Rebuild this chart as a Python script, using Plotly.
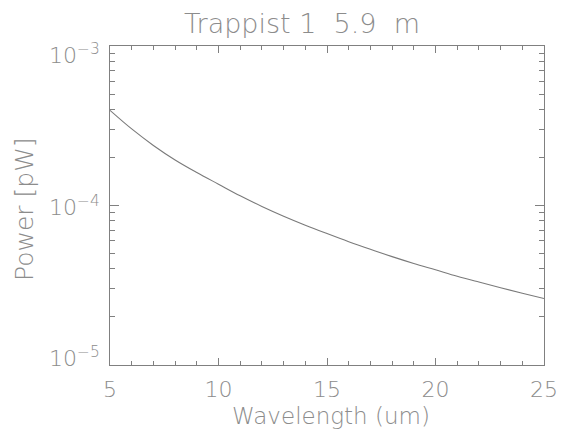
import math
import plotly.graph_objects as go

wavelength_um = [5, 6, 7, 8, 9, 10, 11, 12, 13, 14, 15, 16, 17, 18, 19, 20, 21, 22, 23, 24, 25]
power_pw = [3.95e-4, 3.02e-4, 2.38e-4, 1.93e-4, 1.61e-4, 1.36e-4, 1.15e-4, 9.86e-5, 8.57e-5,
            7.53e-5, 6.67e-5, 5.93e-5, 5.31e-5, 4.78e-5, 4.33e-5, 3.95e-5, 3.60e-5, 3.31e-5,
            3.05e-5, 2.82e-5, 2.61e-5]
y_tickvals = [1e-5, 1e-4, 1e-3]
y_ticktext = ["10<sup>\u22125</sup>", "10<sup>\u22124</sup>", "10<sup>\u22123</sup>"]
y_label_shift = [8, 0, -8]
x_tickvals = [5, 10, 15, 20, 25]
x_ticktext = ["5", "10", "15", "20", "25"]

GREY = "#808080"
TXT = "#8c8c8c"
FONT = "DejaVu Sans"
W = 200

L, R, T, B = 110, 20, 46, 74
PW, PH = 564 - L - R, 439 - T - B


def px_x(x):
    return (x - L) / PW


def px_y(y):
    return 1 - (y - T) / PH


fig = go.Figure()
fig.add_trace(go.Scatter(x=wavelength_um, y=power_pw, mode="lines", line=dict(color="#7a7a7a", width=1.1, shape="spline"),
                         showlegend=False, hoverinfo="skip"))
fig.add_trace(go.Scatter(x=wavelength_um, y=power_pw, mode="lines", line=dict(width=0), opacity=0,
                         xaxis="x2", yaxis="y2", showlegend=False, hoverinfo="skip"))

common_x = dict(range=[5, 25], showgrid=False, zeroline=False, showline=True, linecolor=GREY, linewidth=1,
                ticks="inside", ticklen=7, tickcolor=GREY, tickwidth=1, automargin=False,
                minor=dict(ticks="inside", ticklen=4, dtick=1, tickcolor=GREY, tickwidth=1, showgrid=False))
common_y = dict(type="log", range=[-5, -3], showgrid=False, zeroline=False, showline=True, linecolor=GREY, linewidth=1,
                ticks="inside", ticklen=9, tickcolor=GREY, tickwidth=1, automargin=False,
                minor=dict(ticks="inside", ticklen=5, dtick="D1", tickcolor=GREY, tickwidth=1, showgrid=False))

annotations = []
for v, t, s in zip(y_tickvals, y_ticktext, y_label_shift):
    annotations.append(dict(x=0, xref="paper", y=math.log10(v), yref="y", text=t, showarrow=False,
                            xanchor="right", yanchor="middle", xshift=-8, yshift=s,
                            font=dict(size=22, color=TXT, family=FONT, weight=W)))
annotations.append(dict(x=px_x(24), xref="paper", xanchor="center", y=px_y(209), yref="paper", yanchor="middle",
                        text="Power [pW]", showarrow=False, textangle=-90,
                        font=dict(size=25, color=TXT, family=FONT, weight=W)))
annotations.append(dict(x=px_x(331), xref="paper", xanchor="center", y=px_y(416), yref="paper", yanchor="middle",
                        text="Wavelength (um)", showarrow=False,
                        font=dict(size=23, color=TXT, family=FONT, weight=W)))

fig.update_layout(
    width=564, height=439,
    margin=dict(l=L, r=R, t=T, b=B),
    paper_bgcolor="white", plot_bgcolor="white",
    font=dict(family=FONT, color=TXT, weight=W),
    title=dict(text="Trappist 1  5.9  m", x=302 / 564, xanchor="center", y=1 - 24 / 439, yanchor="middle",
               font=dict(size=27, color=TXT, family=FONT, weight=W)),
    xaxis=dict(**common_x, tickvals=x_tickvals, ticktext=x_ticktext,
               tickfont=dict(size=22, color=TXT, family=FONT, weight=W),
               ticklabelstandoff=5),
    yaxis=dict(**common_y, tickvals=y_tickvals, showticklabels=False),
    xaxis2=dict(**common_x, overlaying="x", side="top", showticklabels=False, tickvals=x_tickvals, matches="x"),
    yaxis2=dict(**common_y, overlaying="y", side="right", showticklabels=False, tickvals=y_tickvals),
    annotations=annotations,
)

fig.write_html("out.html")
